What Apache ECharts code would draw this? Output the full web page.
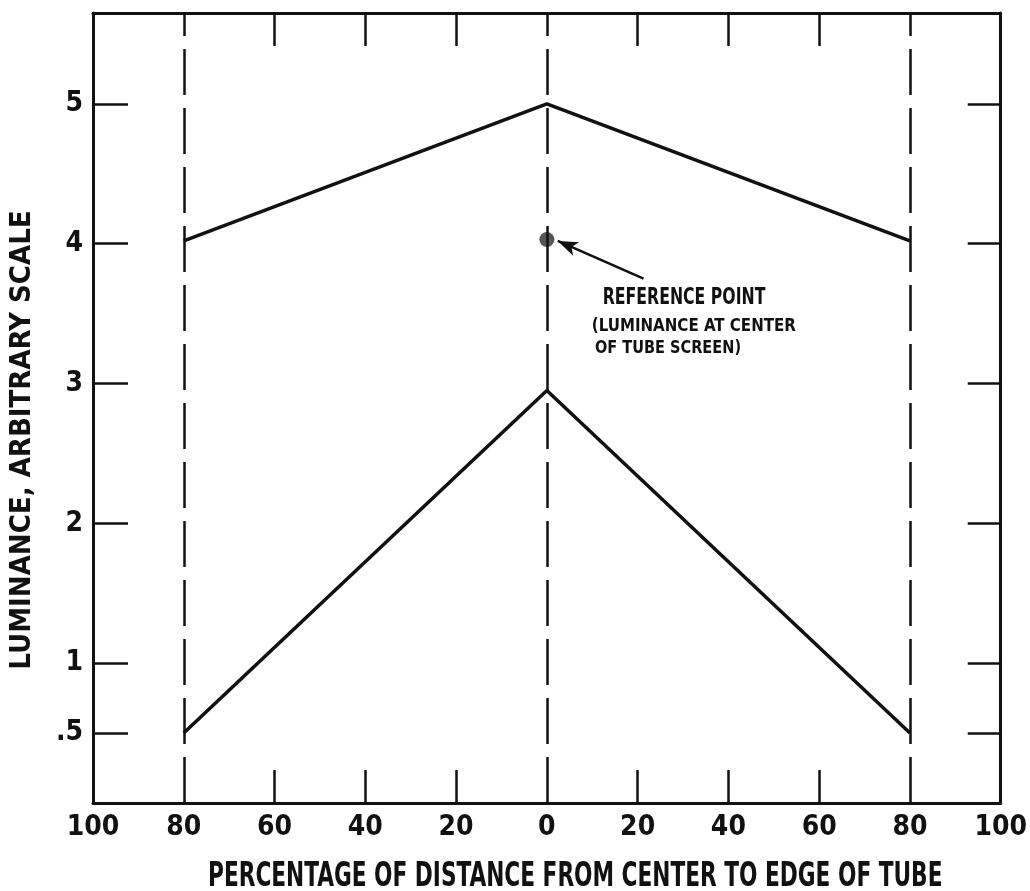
<!DOCTYPE html>
<html>
<head>
<meta charset="utf-8">
<script src="https://cdn.jsdelivr.net/npm/echarts@6/dist/echarts.min.js"></script>
<style>
html,body{margin:0;padding:0;background:#fff;overflow:hidden;}
#chart{width:1030px;height:891px;position:absolute;left:0;top:0;}
</style>
</head>
<body>
<div id="chart"></div>
<script>
// ---- data ----
var xTickLabels = [-100, -80, -60, -40, -20, 0, 20, 40, 60, 80, 100];
var xMinorTicks = [-60, -40, -20, 20, 40, 60];
var yTicks = [0.5, 1, 2, 3, 4, 5];
var dashedX = [-80, 0, 80];
var upperX = [-80, 0, 80];
var upperY = [4.02, 5.0, 4.02];
var lowerX = [-80, 0, 80];
var lowerY = [0.5, 2.95, 0.5];
var refPoint = [0, 4.03];
var arrowFrom = [21.3, 3.75];
var arrowTo = [2.4, 4.02];
var annotLines = ['REFERENCE POINT', '(LUMINANCE AT CENTER', 'OF TUBE SCREEN)'];
var annotX = [12.3, 9.9, 10.6];
var annotY = [3.614, 3.41, 3.25];
var annotSize = [23, 18, 17];
var annotScale = [0.76, 0.93, 0.95];
var xTitle = 'PERCENTAGE OF DISTANCE FROM CENTER TO EDGE OF TUBE';
var yTitle = 'LUMINANCE, ARBITRARY SCALE';

var FONT = '"DejaVu Sans Condensed", "Liberation Sans Narrow", sans-serif';
var INK = '#111';

function pairs(xs, ys){ return xs.map(function(x,i){ return [x, ys[i]]; }); }

var chart = echarts.init(document.getElementById('chart'));

var axisLineStyle = {show:true, onZero:false, lineStyle:{color:INK, width:3}};
var option = {
  backgroundColor:'#fff',
  animation:false,
  grid:{left:91, right:22, top:13, bottom:88, containLabel:false},
  xAxis:[{
    type:'value', position:'bottom', min:-100, max:100, interval:20,
    axisLine:axisLineStyle,
    axisTick:{show:true, inside:true, length:33, customValues:xMinorTicks, lineStyle:{color:INK, width:2.5}},
    axisLabel:{show:true, customValues:xTickLabels, margin:11, color:INK, fontFamily:FONT, fontWeight:'bold', fontSize:28,
      formatter:function(v){ return String(Math.abs(v)); }},
    splitLine:{show:false}
  },{
    type:'value', position:'top', min:-100, max:100, interval:20,
    axisLine:axisLineStyle,
    axisTick:{show:true, inside:true, length:33, customValues:xMinorTicks, lineStyle:{color:INK, width:2.5}},
    axisLabel:{show:false}, splitLine:{show:false}
  }],
  yAxis:[{
    type:'value', position:'left', min:0, max:5.65,
    axisLine:axisLineStyle,
    axisTick:{show:true, inside:true, length:35, customValues:yTicks, lineStyle:{color:INK, width:2.5}},
    axisLabel:{show:true, customValues:yTicks, margin:10, color:INK, fontFamily:FONT, fontWeight:'bold', fontSize:28,
      formatter:function(v){ return v === 0.5 ? '.5' : String(v); }},
    splitLine:{show:false},
    name:yTitle,
    nameLocation:'middle', nameGap:56, nameRotate:90,
    nameTextStyle:{color:INK, fontFamily:FONT, fontWeight:'bold', fontSize:29, padding:[0,64,0,0]}
  },{
    type:'value', position:'right', min:0, max:5.65,
    axisLine:axisLineStyle,
    axisTick:{show:true, inside:true, length:33, customValues:yTicks, lineStyle:{color:INK, width:2.5}},
    axisLabel:{show:false}, splitLine:{show:false}
  }],
  series:[
    {
      type:'line', name:'dashed', data:[], silent:true,
      markLine:{
        silent:true, symbol:['none','none'], label:{show:false},
        lineStyle:{color:INK, width:2.5, type:[46,13]},
        data: dashedX.map(function(x){ return {xAxis:x}; })
      }
    },
    {
      type:'line', name:'upper', data:pairs(upperX, upperY), symbol:'none',
      lineStyle:{color:INK, width:3.5}
    },
    {
      type:'line', name:'lower', data:pairs(lowerX, lowerY), symbol:'none',
      lineStyle:{color:INK, width:3.5}
    },
    {
      type:'scatter', name:'reference', data:[refPoint], symbolSize:15,
      itemStyle:{color:'#2a2a2a'},
      markLine:{
        silent:true, symbol:['none','arrow'], symbolSize:[11,20], label:{show:false},
        lineStyle:{color:INK, width:2.5, type:'solid'},
        data:[[{coord:arrowFrom},{coord:arrowTo}]]
      }
    }
  ]
};
chart.setOption(option);

// text annotations placed through the chart's own coordinate conversion
var gfx = [];
annotLines.forEach(function(t, i){
  var p = chart.convertToPixel({xAxisIndex:0, yAxisIndex:0}, [annotX[i], annotY[i]]);
  gfx.push({type:'text', x:p[0], y:p[1], scaleX:annotScale[i], silent:true,
    style:{text:t, fill:INK, font:'bold ' + annotSize[i] + 'px ' + FONT, textAlign:'left', textVerticalAlign:'middle'}});
});
// x-axis title below the axis
var xl = chart.convertToPixel({xAxisIndex:0}, -100);
var yb = chart.convertToPixel({yAxisIndex:0}, 0);
gfx.push({type:'text', x:xl + 115, y:yb + 74, scaleX:0.73, silent:true,
  style:{text:xTitle, fill:INK, font:'bold 33px ' + FONT, textAlign:'left', textVerticalAlign:'middle'}});
chart.setOption({graphic:gfx});
</script>
</body>
</html>
